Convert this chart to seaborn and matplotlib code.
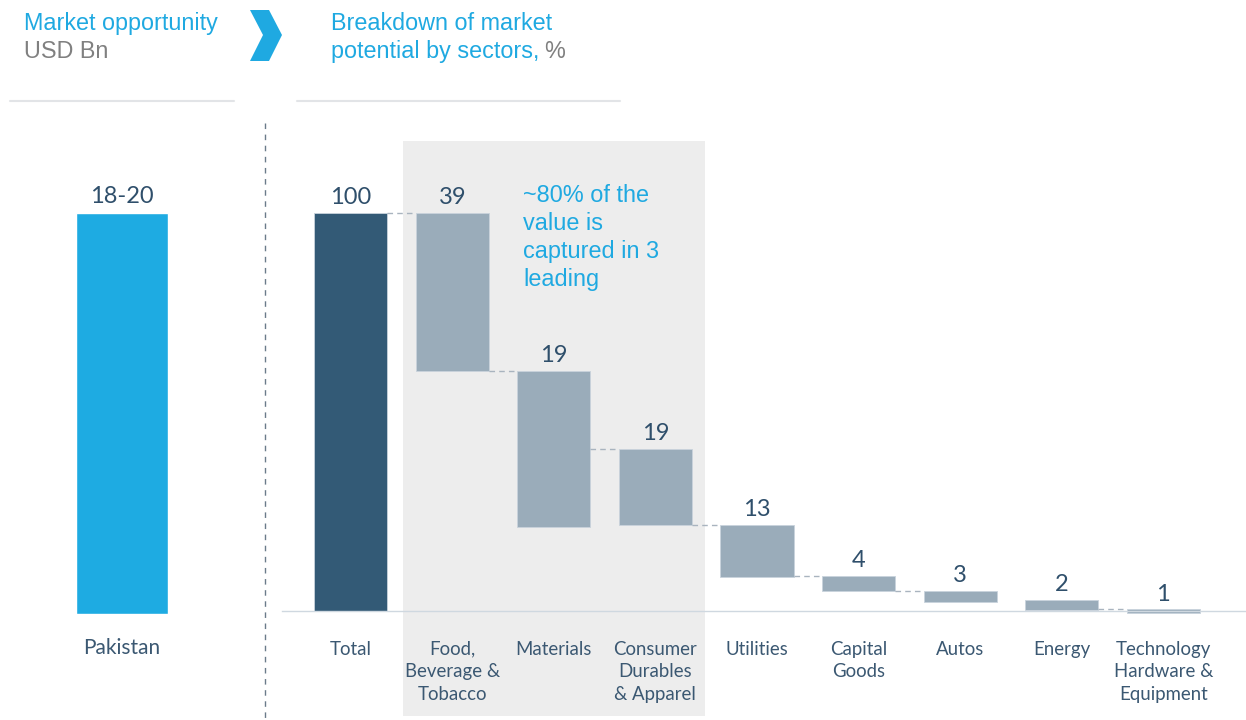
import numpy as np
import pandas as pd
import matplotlib.pyplot as plt
import seaborn as sns
from matplotlib.patches import Polygon, Rectangle
from matplotlib.lines import Line2D

# =========================
# Data
# =========================
country = ["Pakistan"]
country_value = [19]
country_label = ["18-20"]

sectors = ["Total", "Food,\nBeverage &\nTobacco", "Materials",
           "Consumer\nDurables\n& Apparel", "Utilities", "Capital\nGoods",
           "Autos", "Energy", "Technology\nHardware &\nEquipment"]
share_label = [100, 39, 19, 19, 13, 4, 3, 2, 1]
# bar extents as drawn in the reference (% scale)
bar_top = [100, 100, 60.3, 40.7, 21.6, 8.8, 5.0, 2.8, 0.4]
bar_bottom = [0, 60.3, 21.0, 21.6, 8.5, 5.0, 2.3, 0.3, -0.4]
has_link = [True, True, True, True, True, True, False, True]

note_lines = ["~80% of the", "value is", "captured in 3", "leading"]

# =========================
# Style
# =========================
W, H = 1246, 720
BLUE = "#1fa9e1"
DARK = "#335a76"
GREY_BAR = "#9aacba"
TXT = "#2f4f6b"
TICK = "#3b5872"
LBL_SIZE = 13.4
VAL_SIZE = 17

sns.set_theme(style="white")
plt.rcParams['font.family'] = ['Lato', 'DejaVu Sans']


def fx(x):
    return x / W


def fy(y):
    return 1 - y / H


fig = plt.figure(figsize=(W / 100, H / 100), dpi=100)

# shaded box behind the three leading sectors
fig.patches.append(Rectangle((fx(403), fy(716)), fx(705) - fx(403), fy(141) - fy(716),
                             transform=fig.transFigure, facecolor="#ededed",
                             edgecolor="none", zorder=-5))

# =========================
# Left panel: market opportunity
# =========================
axL = fig.add_axes([fx(30), fy(614), fx(184), 614 / H])
axL.patch.set_alpha(0)
sns.barplot(x=country, y=country_value, color="#1eabe2", saturation=1,
            width=0.5, ax=axL)
axL.set_xlim(-0.5, 0.5)
axL.set_ylim(0, 614 / (401 / 19))
for i, lab in enumerate(country_label):
    axL.annotate(lab, (i, country_value[i]), xytext=(0, 7), textcoords="offset points",
                 ha="center", va="baseline", fontsize=VAL_SIZE, color=TXT)
axL.set_xticks(range(len(country)))
axL.set_xticklabels(country, fontsize=15, color=TICK)
axL.tick_params(axis="x", length=0, pad=17)
axL.set_yticks([])
axL.set_xlabel("")
axL.set_ylabel("")
sns.despine(ax=axL, left=True, bottom=True)

# =========================
# Right panel: waterfall
# =========================
ax = fig.add_axes([fx(282), fy(611), fx(964), 611 / H])
ax.patch.set_alpha(0)
df = pd.DataFrame({"sector": sectors,
                   "height": np.array(bar_top) - np.array(bar_bottom)})
colors = [DARK] + [GREY_BAR] * (len(sectors) - 1)
sns.barplot(data=df, x="sector", y="height", hue="sector", order=sectors,
            palette=colors, saturation=1, width=0.72, legend=False, ax=ax,
            edgecolor="#c9d3dc", linewidth=0.6)
for patch, b in zip(ax.patches, bar_bottom):
    patch.set_y(b)
    patch.set_clip_on(False)

ax.set_xlim(-0.677, 8.815)
ax.set_ylim(0, 611 / 3.98)

half = 0.36
for i, link in enumerate(has_link):
    if link:
        ax.plot([i + half, i + 1 - half], [bar_top[i + 1]] * 2, color="#a9b4bf",
                lw=1, ls=(0, (4, 3)), zorder=1)

for i, v in enumerate(share_label):
    ax.annotate(str(v), (i, bar_top[i]), xytext=(0, 6.3), textcoords="offset points",
                ha="center", va="baseline", fontsize=VAL_SIZE, color=TXT)

ax.set_xticks(range(len(sectors)))
ax.set_xticklabels(sectors, linespacing=1.38, fontsize=LBL_SIZE, color=TICK)
ax.tick_params(axis="x", length=0, pad=21.5)
ax.set_yticks([])
ax.set_xlabel("")
ax.set_ylabel("")
sns.despine(ax=ax, left=True)
ax.spines["bottom"].set_color("#cfd8e0")
ax.spines["bottom"].set_linewidth(1)

# annotation in the shaded box
for k, line in enumerate(note_lines):
    fig.text(fx(523), fy(202 + 28 * k), line, fontsize=16.9, color=BLUE,
             family=["Liberation Sans", "DejaVu Sans"], va="baseline")

# =========================
# Headers
# =========================
hfont = ["Liberation Sans", "DejaVu Sans"]
fig.text(fx(24), fy(30), "Market opportunity", fontsize=16.8, color=BLUE, family=hfont)
fig.text(fx(24), fy(58), "USD Bn", fontsize=16.8, color="#808080", family=hfont)
fig.text(fx(331), fy(30), "Breakdown of market", fontsize=16.8, color=BLUE, family=hfont)
t = fig.text(fx(331), fy(58), "potential by sectors,", fontsize=16.8, color=BLUE, family=hfont)
fig.canvas.draw()
bb = t.get_window_extent()
fig.text(fx(bb.x1 + 5), fy(58), "%", fontsize=16.8, color="#808080", family=hfont)

# chevron
chev = [(250, 10), (269, 10), (282, 35), (269, 61), (250, 61), (263, 35)]
fig.patches.append(Polygon([(fx(x), fy(y)) for x, y in chev], closed=True,
                           transform=fig.transFigure, facecolor=BLUE, edgecolor="none"))

# header rules and separator
fig.lines.append(Line2D([fx(10), fx(234)], [fy(101), fy(101)], transform=fig.transFigure,
                        color="#e2e4e7", lw=1.5))
fig.lines.append(Line2D([fx(297), fx(620)], [fy(101), fy(101)], transform=fig.transFigure,
                        color="#e2e4e7", lw=1.5))
fig.lines.append(Line2D([fx(265), fx(265)], [fy(123), fy(720)], transform=fig.transFigure,
                        color="#6b7b8a", lw=1, ls=(0, (4, 4))))

fig.savefig("out.png", dpi=100)
